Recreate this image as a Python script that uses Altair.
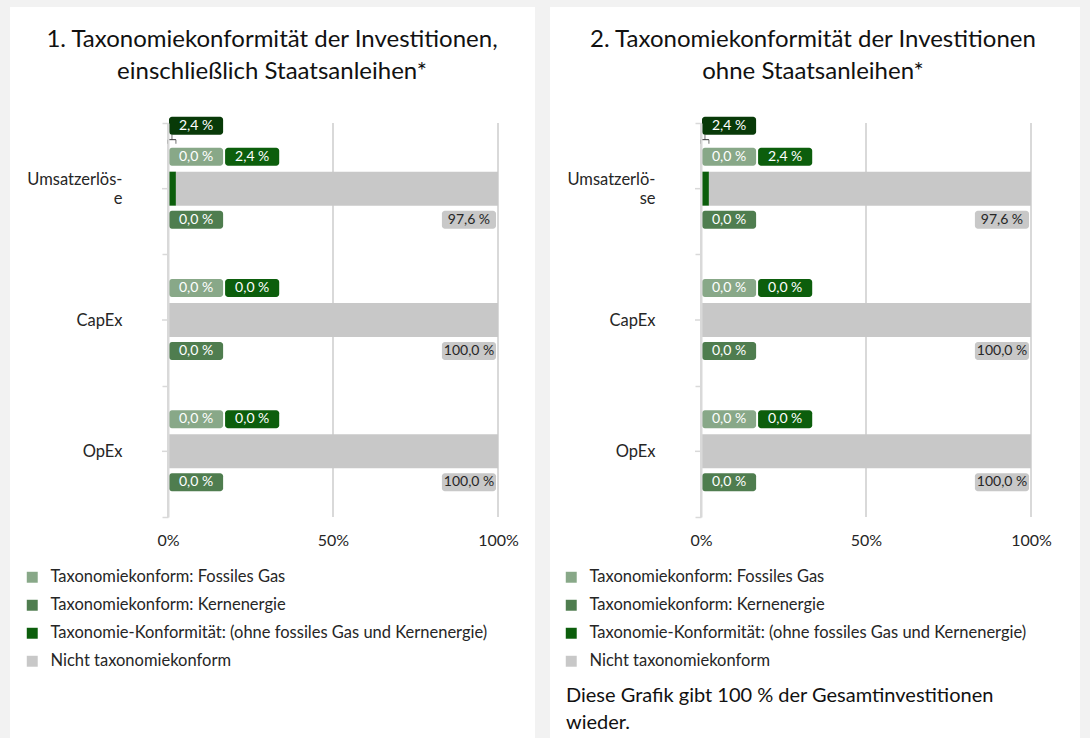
import altair as alt
import pandas as pd

# ---------------- data ----------------
categories = ["Umsatzerlöse", "CapEx", "OpEx"]
series = [
    "Taxonomiekonform: Fossiles Gas",
    "Taxonomiekonform: Kernenergie",
    "Taxonomie-Konformität: (ohne fossiles Gas und Kernenergie)",
    "Nicht taxonomiekonform",
]
colors = ["#88a888", "#4f7d4f", "#0c5e0c", "#c8c8c8"]

# panel 1: incl. sovereign bonds
p1_fossil = [0.0, 0.0, 0.0]
p1_kern = [0.0, 0.0, 0.0]
p1_tax = [2.4, 0.0, 0.0]
p1_nicht = [97.6, 100.0, 100.0]
p1_extra = [2.4, None, None]

# panel 2: excl. sovereign bonds
p2_fossil = [0.0, 0.0, 0.0]
p2_kern = [0.0, 0.0, 0.0]
p2_tax = [2.4, 0.0, 0.0]
p2_nicht = [97.6, 100.0, 100.0]
p2_extra = [2.4, None, None]

x_ticks = [0, 50, 100]

title1 = ["1. Taxonomiekonformität der Investitionen,", "einschließlich Staatsanleihen*"]
title2 = ["2. Taxonomiekonformität der Investitionen", "ohne Staatsanleihen*"]
wrap1 = ["Umsatzerlös-", "e"]
wrap2 = ["Umsatzerlö-", "se"]
footnote = ["Diese Grafik gibt 100\u202f% der Gesamtinvestitionen", "wieder."]

FONT = "Lato"
GRID = "#d9d9d9"
TXT = "#262626"

# label layout (in % units of the x scale)
BOX_W = 16.4
SLOT0 = 0.3
SLOT1 = SLOT0 + BOX_W + 0.6
END = 99.4
ROW_OFF = {"top": -63, "above": -32, "below": 31}
placement = {
    series[0]: ("above", SLOT0),
    series[1]: ("below", SLOT0),
    series[2]: ("above", SLOT1),
    series[3]: ("below", END - BOX_W),
}
label_text_color = {series[0]: "white", series[1]: "white", series[2]: "white", series[3]: TXT}


def fmt(v):
    return f"{v:.1f}".replace(".", ",") + "\u202f%"


def make_panel(title, fossil, kern, tax, nicht, extra, wrap, title_x, legend_x, panel_x, panel_x2, note=None):
    vals = [fossil, kern, tax, nicht]
    rows = []
    lab = []
    brk = []
    for ci, cat in enumerate(categories):
        for si, s in enumerate(series):
            v = vals[si][ci]
            rows.append({"cat": cat, "series": s, "value": v, "order": si})
            row, x0 = placement[s]
            lab.append({"cat": cat, "row": row, "x0": x0, "x1": x0 + BOX_W, "xm": x0 + BOX_W / 2,
                        "text": fmt(v), "fill": colors[si], "tfill": label_text_color[s]})
        if extra[ci] is not None:
            lab.append({"cat": cat, "row": "top", "x0": SLOT0, "x1": SLOT0 + BOX_W, "xm": SLOT0 + BOX_W / 2,
                        "text": fmt(extra[ci]), "fill": "#083a08", "tfill": "white"})
            brk.append({"cat": cat, "b0": 0.0, "b1": extra[ci], "bm": extra[ci] / 2})
    df = pd.DataFrame(rows)
    ldf = pd.DataFrame(lab)
    bdf = pd.DataFrame(brk)

    yscale = alt.Scale(domain=categories, paddingInner=0, paddingOuter=0)
    xscale = alt.Scale(domain=[0, 100])
    label_expr = (
        "datum.value == '" + categories[0] + "' ? ['" + wrap[0] + "', '" + wrap[1] + "'] : datum.value"
    )

    one = pd.DataFrame({"k": [0]})
    bg = alt.Chart(one).mark_rect(color="white").encode(
        x=alt.value(panel_x), x2=alt.value(panel_x2), y=alt.value(-116), y2=alt.value(615)
    )

    ttl = alt.Chart(one).mark_text(
        text=title, font=FONT, fontSize=24, align="center", baseline="middle", lineHeight=32, color="#111111"
    ).encode(x=alt.value(title_x), y=alt.value(-83))

    grid = alt.Chart(pd.DataFrame({"t": x_ticks})).mark_rule(color=GRID, strokeWidth=2).encode(
        x=alt.X("t:Q", scale=xscale), y=alt.value(0), y2=alt.value(394)
    )

    bars = alt.Chart(df).mark_bar(size=34).encode(
        x=alt.X(
            "value:Q",
            stack="zero",
            scale=xscale,
            title=None,
            axis=alt.Axis(
                values=x_ticks, labelExpr="datum.value + '%'", grid=False, ticks=False, domain=False,
                labelFlush=False, labelFont=FONT, labelFontSize=16, labelColor=TXT, labelPadding=15, zindex=1,
            ),
        ),
        y=alt.Y(
            "cat:N",
            sort=categories,
            scale=yscale,
            title=None,
            axis=alt.Axis(
                tickBand="extent", tickSize=6, tickColor=GRID, tickWidth=1.5, domainColor=GRID, domainWidth=2,
                labelFont=FONT, labelFontSize=16.5, labelColor=TXT, labelPadding=40, labelLineHeight=19,
                labelExpr=label_expr, zindex=1,
                labelOffset={"condition": {"test": "datum.value == '" + categories[0] + "'", "value": -9.5},
                             "value": 0},
            ),
        ),
        color=alt.Color(
            "series:N",
            scale=alt.Scale(domain=series, range=colors),
            legend=alt.Legend(
                title=None, orient="none", legendX=legend_x, legendY=446, direction="vertical",
                symbolType="square", symbolSize=120, symbolStrokeWidth=0, labelFont=FONT, labelFontSize=16.5,
                labelColor=TXT, rowPadding=11, labelOffset=10, labelLimit=600, padding=0,
            ),
        ),
        order=alt.Order("order:Q"),
    )

    cticks = alt.Chart(pd.DataFrame({"cat": categories})).mark_rule(color=GRID, strokeWidth=1.5).encode(
        y=alt.Y("cat:N", sort=categories, scale=yscale), x=alt.value(-6), x2=alt.value(0)
    )

    layers = [bg, ttl, grid, bars, cticks]

    # leader bracket from the extra label to its bar segment
    if len(bdf) > 0:
        hline = alt.Chart(bdf).mark_rule(color="#333333", strokeWidth=1, yOffset=-49).encode(
            x=alt.X("b0:Q", scale=xscale), x2="b1:Q", y=alt.Y("cat:N", sort=categories, scale=yscale)
        )
        stem = alt.Chart(bdf).mark_tick(color="#333333", orient="vertical", size=5, thickness=1, yOffset=-51.5).encode(
            x=alt.X("bm:Q", scale=xscale), y=alt.Y("cat:N", sort=categories, scale=yscale)
        )
        drop0 = alt.Chart(bdf).mark_tick(color="#333333", orient="vertical", size=4, thickness=1, yOffset=-47).encode(
            x=alt.X("b0:Q", scale=xscale), y=alt.Y("cat:N", sort=categories, scale=yscale)
        )
        drop1 = alt.Chart(bdf).mark_tick(color="#333333", orient="vertical", size=4, thickness=1, yOffset=-47).encode(
            x=alt.X("b1:Q", scale=xscale), y=alt.Y("cat:N", sort=categories, scale=yscale)
        )
        layers += [hline, stem, drop0, drop1]

    for row, off in ROW_OFF.items():
        sub = ldf[ldf["row"] == row]
        if len(sub) == 0:
            continue
        box = alt.Chart(sub).mark_bar(size=18, cornerRadius=3, yOffset=off).encode(
            x=alt.X("x0:Q", scale=xscale), x2="x1:Q",
            y=alt.Y("cat:N", sort=categories, scale=yscale),
            fill=alt.Fill("fill:N", scale=None),
        )
        txt = alt.Chart(sub).mark_text(yOffset=off, font=FONT, fontSize=14, baseline="middle", align="center").encode(
            x=alt.X("xm:Q", scale=xscale),
            y=alt.Y("cat:N", sort=categories, scale=yscale),
            text="text:N",
            fill=alt.Fill("tfill:N", scale=None),
        )
        layers += [box, txt]

    if note is not None:
        layers.append(
            alt.Chart(one).mark_text(
                text=note, font=FONT, fontSize=20, align="left", baseline="middle", lineHeight=27, color="#111111"
            ).encode(x=alt.value(-135), y=alt.value(573))
        )

    return alt.layer(*layers).properties(width=330, height=394)


left = make_panel(title1, p1_fossil, p1_kern, p1_tax, p1_nicht, p1_extra, wrap1, 104, -144, -158, 367)
right = make_panel(title2, p2_fossil, p2_kern, p2_tax, p2_nicht, p2_extra, wrap2, 112, -138, -151, 379, footnote)

chart = (
    alt.hconcat(left, right, spacing=203, bounds="flush")
    .resolve_scale(color="independent")
    .properties(background="#f2f2f2", padding={"left": 10, "top": 7, "right": 10, "bottom": 0})
    .configure_view(strokeWidth=0)
)

chart.save("out.html", embed_options={"renderer": "svg", "actions": False})
